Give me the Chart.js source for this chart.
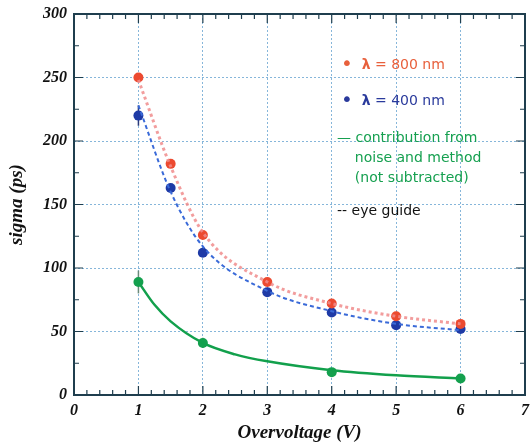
<!DOCTYPE html>
<html>
<head>
<meta charset="utf-8">
<script src="https://cdn.jsdelivr.net/npm/chart.js@4/dist/chart.umd.min.js"></script>
<style>
  html,body{margin:0;padding:0;background:#fff;}
  #wrap{position:relative;width:531px;height:448px;}
  #c{position:absolute;left:0;top:0;}
  .lg{position:absolute;font-family:"DejaVu Sans",sans-serif;font-size:14px;line-height:20px;white-space:nowrap;}
</style>
</head>
<body>
<div id="wrap">
  <canvas id="c" width="531" height="448"></canvas>
  <div class="lg" style="left:341px;top:52px;color:#e8603c;"><span style="font-size:20px;position:relative;top:1px;">•</span>&nbsp;&nbsp;<b>λ</b> = 800 nm</div>
  <div class="lg" style="left:341px;top:88px;color:#2a3a9c;"><span style="font-size:20px;position:relative;top:1px;">•</span>&nbsp;&nbsp;<b>λ</b> = 400 nm</div>
  <div class="lg" style="left:337px;top:127px;color:#16a050;">— contribution from<br>&nbsp;&nbsp;&nbsp;&nbsp;noise and method<br>&nbsp;&nbsp;&nbsp;&nbsp;(not subtracted)</div>
  <div class="lg" style="left:337px;top:200px;color:#111;">-- eye guide</div>
</div>
<script>
// ---- data ----
const xRed   = [1, 1.5, 2, 3, 4, 5, 6];
const yRed   = [250, 182, 126, 89, 72, 62, 56];
const xBlue  = [1, 1.5, 2, 3, 4, 5, 6];
const yBlue  = [220, 163, 112, 81, 65, 55, 52];
const errBlue = [8, 3, 3, 2, 2, 2, 2];
const xGreen = [1, 2, 4, 6];
const yGreen = [89, 41, 18, 13];
const errGreen = [9, 4, 3, 3];
// eye-guide curves
const fitX      = [1, 1.5, 2, 3, 4, 5, 6];
const fitRed    = [248, 180, 128, 89, 72, 62, 56];
const fitBlue   = [228, 160, 117, 82, 66, 56, 51];
const fitGreenX = [1, 1.25, 1.5, 2, 2.5, 3, 4, 5, 6];
const fitGreen  = [89, 71, 58, 41, 32, 26.5, 19.5, 15.5, 13];
const xTicks = [0, 1, 2, 3, 4, 5, 6, 7];
const yTicks = [0, 50, 100, 150, 200, 250, 300];

const pts = (xs, ys) => xs.map((x, i) => ({x, y: ys[i]}));

const frameColor = '#1f3e4e';

const extras = {
  id: 'extras',
  beforeDatasetsDraw(chart) {
    const {ctx, scales:{x, y}} = chart;
    ctx.save();
    const bars = (xs, ys, es, col) => {
      ctx.strokeStyle = col; ctx.lineWidth = 1.5;
      xs.forEach((xv, i) => {
        const px = x.getPixelForValue(xv);
        ctx.beginPath();
        ctx.moveTo(px, y.getPixelForValue(ys[i] - es[i]));
        ctx.lineTo(px, y.getPixelForValue(ys[i] + es[i]));
        ctx.stroke();
      });
    };
    bars(xBlue, yBlue, errBlue, '#2a3a7a');
    bars(xGreen, yGreen, errGreen, '#6a8a7a');
    ctx.restore();
  },
  afterDraw(chart) {
    const {ctx, chartArea:a, scales:{x, y}} = chart;
    ctx.save();
    ctx.strokeStyle = frameColor;
    ctx.lineWidth = 1.2;
    for (let k = 0; k <= 35; k++) {
      const v = k * 0.2;
      const px = x.getPixelForValue(v);
      const len = (k % 5 === 0) ? 9 : 5;
      ctx.beginPath();
      ctx.moveTo(px, a.bottom); ctx.lineTo(px, a.bottom - len);
      ctx.moveTo(px, a.top); ctx.lineTo(px, a.top + len);
      ctx.stroke();
    }
    for (let k = 0; k <= 12; k++) {
      const v = k * 25;
      const py = y.getPixelForValue(v);
      const len = (k % 2 === 0) ? 9 : 5;
      ctx.beginPath();
      ctx.moveTo(a.left, py); ctx.lineTo(a.left + len, py);
      ctx.moveTo(a.right, py); ctx.lineTo(a.right - len, py);
      ctx.stroke();
    }
    ctx.lineWidth = 2;
    ctx.strokeRect(a.left, a.top, a.right - a.left, a.bottom - a.top);
    ctx.restore();
  }
};

const tickFont = {family: '"Liberation Serif", serif', size: 16, weight: 'bold', style: 'italic'};
const titleFont = {family: '"Liberation Serif", serif', size: 19, weight: 'bold', style: 'italic'};

new Chart(document.getElementById('c'), {
  type: 'scatter',
  data: {
    datasets: [
      {label: 'fitRed', data: pts(fitX, fitRed), showLine: true, pointRadius: 0,
       borderColor: 'rgba(240,140,140,0.85)', borderWidth: 3, borderDash: [3, 3],
       cubicInterpolationMode: 'monotone'},
      {label: 'fitBlue', data: pts(fitX, fitBlue), showLine: true, pointRadius: 0,
       borderColor: '#3a6ad8', borderWidth: 2, borderDash: [4, 3],
       cubicInterpolationMode: 'monotone'},
      {label: 'fitGreen', data: pts(fitGreenX, fitGreen), showLine: true, pointRadius: 0,
       borderColor: '#12a04c', borderWidth: 2.5,
       cubicInterpolationMode: 'monotone'},
      {label: 'λ = 800 nm', data: pts(xRed, yRed), pointRadius: 5,
       backgroundColor: '#ec4a30', borderColor: '#ec4a30', borderWidth: 0},
      {label: 'λ = 400 nm', data: pts(xBlue, yBlue), pointRadius: 5,
       backgroundColor: '#1e3aa6', borderColor: '#1e3aa6', borderWidth: 0},
      {label: 'noise', data: pts(xGreen, yGreen), pointRadius: 5,
       backgroundColor: '#14a04e', borderColor: '#14a04e', borderWidth: 0}
    ]
  },
  options: {
    responsive: false,
    animation: false,
    layout: {padding: {left: 0, right: 6, top: 14, bottom: 0}},
    plugins: {legend: {display: false}, tooltip: {enabled: false}},
    scales: {
      x: {
        type: 'linear', min: 0, max: 7,
        afterBuildTicks: s => { s.ticks = xTicks.map(v => ({value: v})); },
        afterFit: s => { s.height = 53; s.paddingLeft = 0; s.paddingRight = 0; },
        ticks: {font: tickFont, color: '#111', padding: 6},
        grid: {color: '#86b6da', lineWidth: 1, drawTicks: false},
        border: {display: false, dash: [2, 2]},
        title: {display: true, text: 'Overvoltage (V)', font: titleFont, color: '#111',
                padding: {top: 0, bottom: 4}}
      },
      y: {
        type: 'linear', min: 0, max: 300,
        afterBuildTicks: s => { s.ticks = yTicks.map(v => ({value: v})); },
        afterFit: s => { s.width = 74; s.paddingTop = 0; s.paddingBottom = 0; },
        ticks: {font: tickFont, color: '#111', padding: 7},
        grid: {color: '#86b6da', lineWidth: 1, drawTicks: false},
        border: {display: false, dash: [2, 2]},
        title: {display: true, text: 'sigma (ps)', font: titleFont, color: '#111',
                padding: {top: 6, bottom: 0}}
      }
    }
  },
  plugins: [extras]
});
</script>
</body>
</html>
